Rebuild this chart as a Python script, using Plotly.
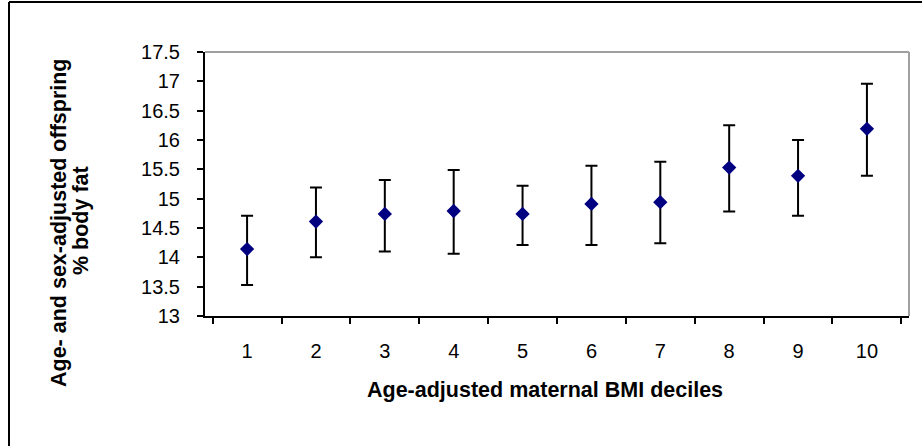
import plotly.graph_objects as go

# Age-adjusted maternal BMI deciles and adjusted offspring % body fat
deciles = ["1", "2", "3", "4", "5", "6", "7", "8", "9", "10"]
body_fat = [14.14, 14.61, 14.74, 14.79, 14.74, 14.91, 14.94, 15.53, 15.39, 16.19]
ci_upper = [14.71, 15.19, 15.32, 15.49, 15.22, 15.56, 15.63, 16.25, 16.00, 16.96]
ci_lower = [13.53, 14.00, 14.10, 14.06, 14.21, 14.21, 14.24, 14.78, 14.71, 15.39]

y_ticks = [13, 13.5, 14, 14.5, 15, 15.5, 16, 16.5, 17, 17.5]
y_tick_text = ["13", "13.5", "14", "14.5", "15", "15.5", "16", "16.5", "17", "17.5"]

x_title = "Age-adjusted maternal BMI deciles"
y_title_lines = ["Age- and sex-adjusted offspring", "% body fat"]

err_plus = [u - m for u, m in zip(ci_upper, body_fat)]
err_minus = [m - l for m, l in zip(body_fat, ci_lower)]

FONT = "Liberation Sans, Arial, sans-serif"

fig = go.Figure()
fig.add_trace(go.Scatter(
    x=deciles,
    y=body_fat,
    mode="markers",
    marker=dict(symbol="diamond", size=11, color="#000080"),
    error_y=dict(
        type="data",
        symmetric=False,
        array=err_plus,
        arrayminus=err_minus,
        color="black",
        thickness=2,
        width=6,
    ),
    showlegend=False,
))

W, H = 922, 446
L, R, T, B = 205, 13, 52, 130
pw, ph = W - L - R, H - T - B


def px_x(px):
    return (px - L) / pw


def px_y(py):
    return (H - B - py) / ph


title_font = dict(family=FONT, size=21.5, color="black")

fig.update_layout(
    width=W,
    height=H,
    margin=dict(l=L, r=R, t=T, b=B),
    paper_bgcolor="white",
    plot_bgcolor="white",
    font=dict(family=FONT, size=20, color="black"),
    xaxis=dict(
        type="category",
        categoryorder="array",
        categoryarray=deciles,
        tickson="boundaries",
        ticks="outside",
        ticklen=6,
        tickwidth=2,
        tickcolor="black",
        showline=True,
        linecolor="black",
        linewidth=2,
        showgrid=False,
        zeroline=False,
        ticklabelstandoff=16,
        tickfont=dict(family=FONT, size=20),
    ),
    yaxis=dict(
        range=[13, 17.5],
        tickvals=y_ticks,
        ticktext=y_tick_text,
        ticks="outside",
        ticklen=6,
        tickwidth=2,
        tickcolor="black",
        showline=True,
        linecolor="black",
        linewidth=2,
        showgrid=False,
        zeroline=False,
        ticklabelstandoff=13,
        tickfont=dict(family=FONT, size=20),
    ),
    shapes=[
        # plot-area border, top and right
        dict(type="line", xref="paper", yref="paper", x0=0, x1=1, y0=1, y1=1,
             line=dict(color="#a0a0a0", width=2)),
        dict(type="line", xref="paper", yref="paper", x0=1, x1=1, y0=0, y1=1,
             line=dict(color="#a0a0a0", width=2)),
        # outer chart frame
        dict(type="line", xref="paper", yref="paper", x0=px_x(9), x1=px_x(9),
             y0=px_y(2), y1=px_y(H + 5), line=dict(color="black", width=2)),
        dict(type="line", xref="paper", yref="paper", x0=px_x(9), x1=px_x(W + 5),
             y0=px_y(2), y1=px_y(2), line=dict(color="black", width=2)),
    ],
    annotations=[
        dict(text="<b>" + x_title + "</b>",
             xref="paper", yref="paper", x=px_x(545), y=px_y(390),
             xanchor="center", yanchor="middle", showarrow=False,
             font=title_font),
        dict(text="<b>" + y_title_lines[0] + "</b>",
             xref="paper", yref="paper", x=px_x(59), y=px_y(223),
             xanchor="center", yanchor="middle", showarrow=False,
             textangle=-90, font=title_font),
        dict(text="<b>" + y_title_lines[1] + "</b>",
             xref="paper", yref="paper", x=px_x(81), y=px_y(221),
             xanchor="center", yanchor="middle", showarrow=False,
             textangle=-90, font=title_font),
    ],
)

fig.write_html("out.html")
